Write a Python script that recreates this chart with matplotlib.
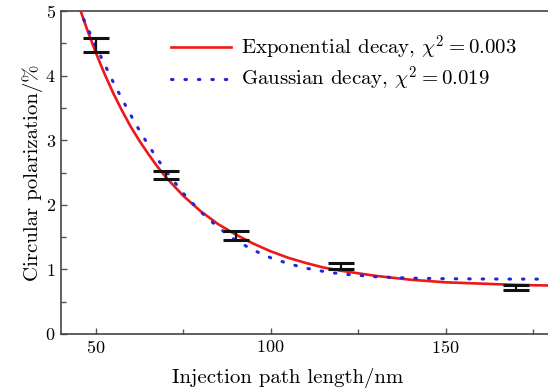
"""Circular polarization vs injection path length, with exponential and
Gaussian decay fits."""
import matplotlib
matplotlib.use("Agg")
import matplotlib.pyplot as plt
from matplotlib.ticker import MultipleLocator

plt.rcParams["font.family"] = "serif"
plt.rcParams["font.serif"] = ["cmr10"]
plt.rcParams["mathtext.fontset"] = "cm"
plt.rcParams["axes.formatter.use_mathtext"] = True

# measured points (path length nm, polarization %, half error)
meas_x = [50, 70, 90, 120, 170]
meas_y = [4.475, 2.46, 1.52, 1.055, 0.72]
meas_err = [0.105, 0.06, 0.068, 0.05, 0.035]

# exponential fit curve
exp_x = [45, 47.5, 50, 52.5, 55, 57.5, 60, 62.5, 65, 67.5, 70, 75, 80, 85,
         90, 95, 100, 105, 110, 115, 120, 130, 140, 150, 160, 170, 180]
exp_y = [5.11, 4.72, 4.36, 4.03, 3.73, 3.46, 3.21, 2.99, 2.79, 2.60, 2.43,
         2.14, 1.90, 1.70, 1.54, 1.40, 1.28, 1.18, 1.10, 1.03, 0.98, 0.90,
         0.84, 0.80, 0.78, 0.76, 0.75]

# Gaussian fit curve
gau_x = [45, 47.5, 50, 52.5, 55, 57.5, 60, 62.5, 65, 67.5, 70, 75, 80, 85,
         90, 95, 100, 105, 110, 115, 120, 130, 140, 150, 160, 170, 180]
gau_y = [5.06, 4.76, 4.46, 4.18, 3.90, 3.64, 3.39, 3.15, 2.93, 2.72, 2.53,
         2.18, 1.89, 1.65, 1.45, 1.30, 1.18, 1.09, 1.02, 0.97, 0.93, 0.886,
         0.865, 0.856, 0.852, 0.85, 0.85]

labels = [r"Exponential decay, $\chi^2=0.003$",
          r"Gaussian decay, $\chi^2=0.019$"]

fig = plt.figure(figsize=(5.48, 3.91), dpi=100)
ax = fig.add_axes([0.1108, 0.1458, 0.894, 0.826])

ax.plot(exp_x, exp_y, color="#ee1818", lw=1.9, label=labels[0], zorder=3)
ax.plot(gau_x, gau_y, color="#2424d8", lw=2.2, ls=(0, (0.5, 3.9)),
        dash_capstyle="round", label=labels[1], zorder=4)
ax.errorbar(meas_x, meas_y, yerr=meas_err, fmt="none", ecolor="#111111",
            elinewidth=1.6, capsize=9.5, capthick=2.2, zorder=5)

ax.set_xlim(40, 180)
ax.set_ylim(0, 5)
ax.xaxis.set_major_locator(MultipleLocator(50))
ax.xaxis.set_minor_locator(MultipleLocator(25))
ax.yaxis.set_major_locator(MultipleLocator(1))
ax.yaxis.set_minor_locator(MultipleLocator(0.5))
ax.tick_params(which="both", direction="in", color="#555555",
               labelsize=13, top=False, right=False)
ax.tick_params(which="major", length=4.5, width=1)
ax.tick_params(which="minor", length=3.5, width=1)
for s in ax.spines.values():
    s.set_color("#444444")
    s.set_linewidth(1.2)

ax.set_xlabel("Injection path length/nm", fontsize=15, labelpad=9, x=0.464)
ax.set_ylabel("Circular polarization/%", fontsize=15, labelpad=2)

ax.legend(loc="upper left", bbox_to_anchor=(0.225, 0.93), frameon=False,
          fontsize=15, handlelength=2.9, handletextpad=0.45,
          labelspacing=0.15, borderpad=0, borderaxespad=0)

fig.savefig("out.png", dpi=100)
